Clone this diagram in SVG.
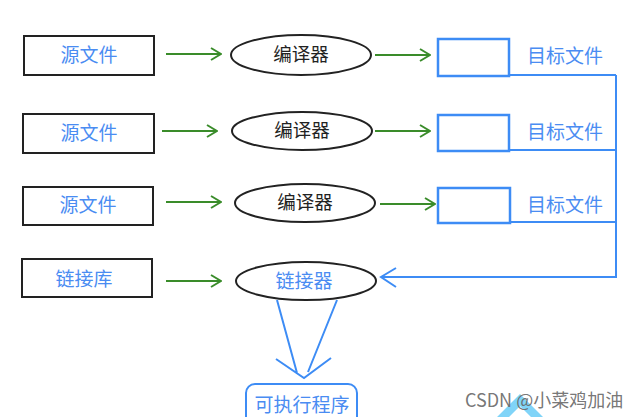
<svg xmlns="http://www.w3.org/2000/svg" width="642" height="417" viewBox="0 0 642 417">
<style>
.src{fill:#fff;stroke:#222;stroke-width:2}
.ell{fill:#fff;stroke:#222;stroke-width:2}
.obj{fill:#fff;stroke:#3d8cf5;stroke-width:2.5}
.bt{font-family:"Noto Sans CJK SC","Noto Sans",sans-serif;font-size:19px;fill:#4a8cf2}
.kt{font-family:"Noto Sans CJK SC","Noto Sans",sans-serif;font-size:18.5px;fill:#222}
.g{stroke:#3a8c2a;stroke-width:2;fill:none}
.b{stroke:#3d8cf5;stroke-width:2;fill:none}
</style>
<defs>
<marker id="ga" viewBox="0 0 12 14" refX="11" refY="7" markerWidth="12" markerHeight="14" markerUnits="userSpaceOnUse" orient="auto">
<path d="M1,1 L11,7 L1,13" fill="none" stroke="#3a8c2a" stroke-width="2"/>
</marker>
</defs>
<rect width="642" height="417" fill="#fff"/>
<g id="src1"><rect class="src" x="24" y="36" width="130" height="39"/><text class="bt" x="89" y="62" text-anchor="middle">源文件</text></g>
<g id="src2"><rect class="src" x="23" y="114" width="131" height="39"/><text class="bt" x="89" y="140" text-anchor="middle">源文件</text></g>
<g id="src3"><rect class="src" x="23" y="187" width="130" height="38"/><text class="bt" x="88" y="212" text-anchor="middle">源文件</text></g>
<g id="lib"><rect class="src" x="22" y="259" width="130" height="38"/><text class="bt" x="84" y="286" text-anchor="middle">链接库</text></g>
<g id="cmp1"><ellipse class="ell" cx="301" cy="55" rx="70" ry="20"/><text class="kt" x="301" y="61" text-anchor="middle">编译器</text></g>
<g id="cmp2"><ellipse class="ell" cx="302" cy="131" rx="70" ry="19"/><text class="kt" x="302" y="137" text-anchor="middle">编译器</text></g>
<g id="cmp3"><ellipse class="ell" cx="305" cy="203" rx="70" ry="19"/><text class="kt" x="305" y="209" text-anchor="middle">编译器</text></g>
<g id="lnk"><ellipse class="ell" cx="306" cy="281" rx="70" ry="19"/><text class="bt" x="304" y="288" text-anchor="middle">链接器</text></g>
<g id="obj1"><rect class="obj" x="438" y="39" width="71" height="37"/><text class="bt" x="565" y="63" text-anchor="middle">目标文件</text></g>
<g id="obj2"><rect class="obj" x="438" y="115" width="71" height="36"/><text class="bt" x="565" y="139" text-anchor="middle">目标文件</text></g>
<g id="obj3"><rect class="obj" x="438" y="188" width="72" height="35"/><text class="bt" x="565" y="212" text-anchor="middle">目标文件</text></g>
<g id="exe"><rect x="246" y="384" width="111" height="45" rx="9" fill="#fff" stroke="#3d8cf5" stroke-width="2"/><text class="bt" x="302" y="412" text-anchor="middle">可执行程序</text></g>
<g id="connectors">
<line class="g" x1="166" y1="54" x2="221" y2="54" marker-end="url(#ga)"/>
<line class="g" x1="375" y1="55" x2="430" y2="55" marker-end="url(#ga)"/>
<line class="g" x1="162" y1="131" x2="217" y2="131" marker-end="url(#ga)"/>
<line class="g" x1="375" y1="131" x2="430" y2="131" marker-end="url(#ga)"/>
<line class="g" x1="166" y1="202" x2="221" y2="202" marker-end="url(#ga)"/>
<line class="g" x1="380" y1="204" x2="435" y2="204" marker-end="url(#ga)"/>
<line class="g" x1="166" y1="281" x2="221" y2="281" marker-end="url(#ga)"/>
<path class="b" d="M509,75 H616 M509,150 H616 M510,222 H616 M616,75 V277 H381"/>
<path class="b" d="M396,268 L381,277 L396,287"/>
<path class="b" d="M277,300 L297,373 M337,300 L308,372 M276,359 L304,378 L331,358"/>
</g>
<polygon points="497,417 520,394 543,417 531,417 520,406 509,417" fill="#80d4f8"/>
<text x="465" y="407" font-family="Noto Sans CJK SC,Noto Sans,sans-serif" font-size="18" fill="#666" fill-opacity="0.9">CSDN @小菜鸡加油</text>
</svg>
